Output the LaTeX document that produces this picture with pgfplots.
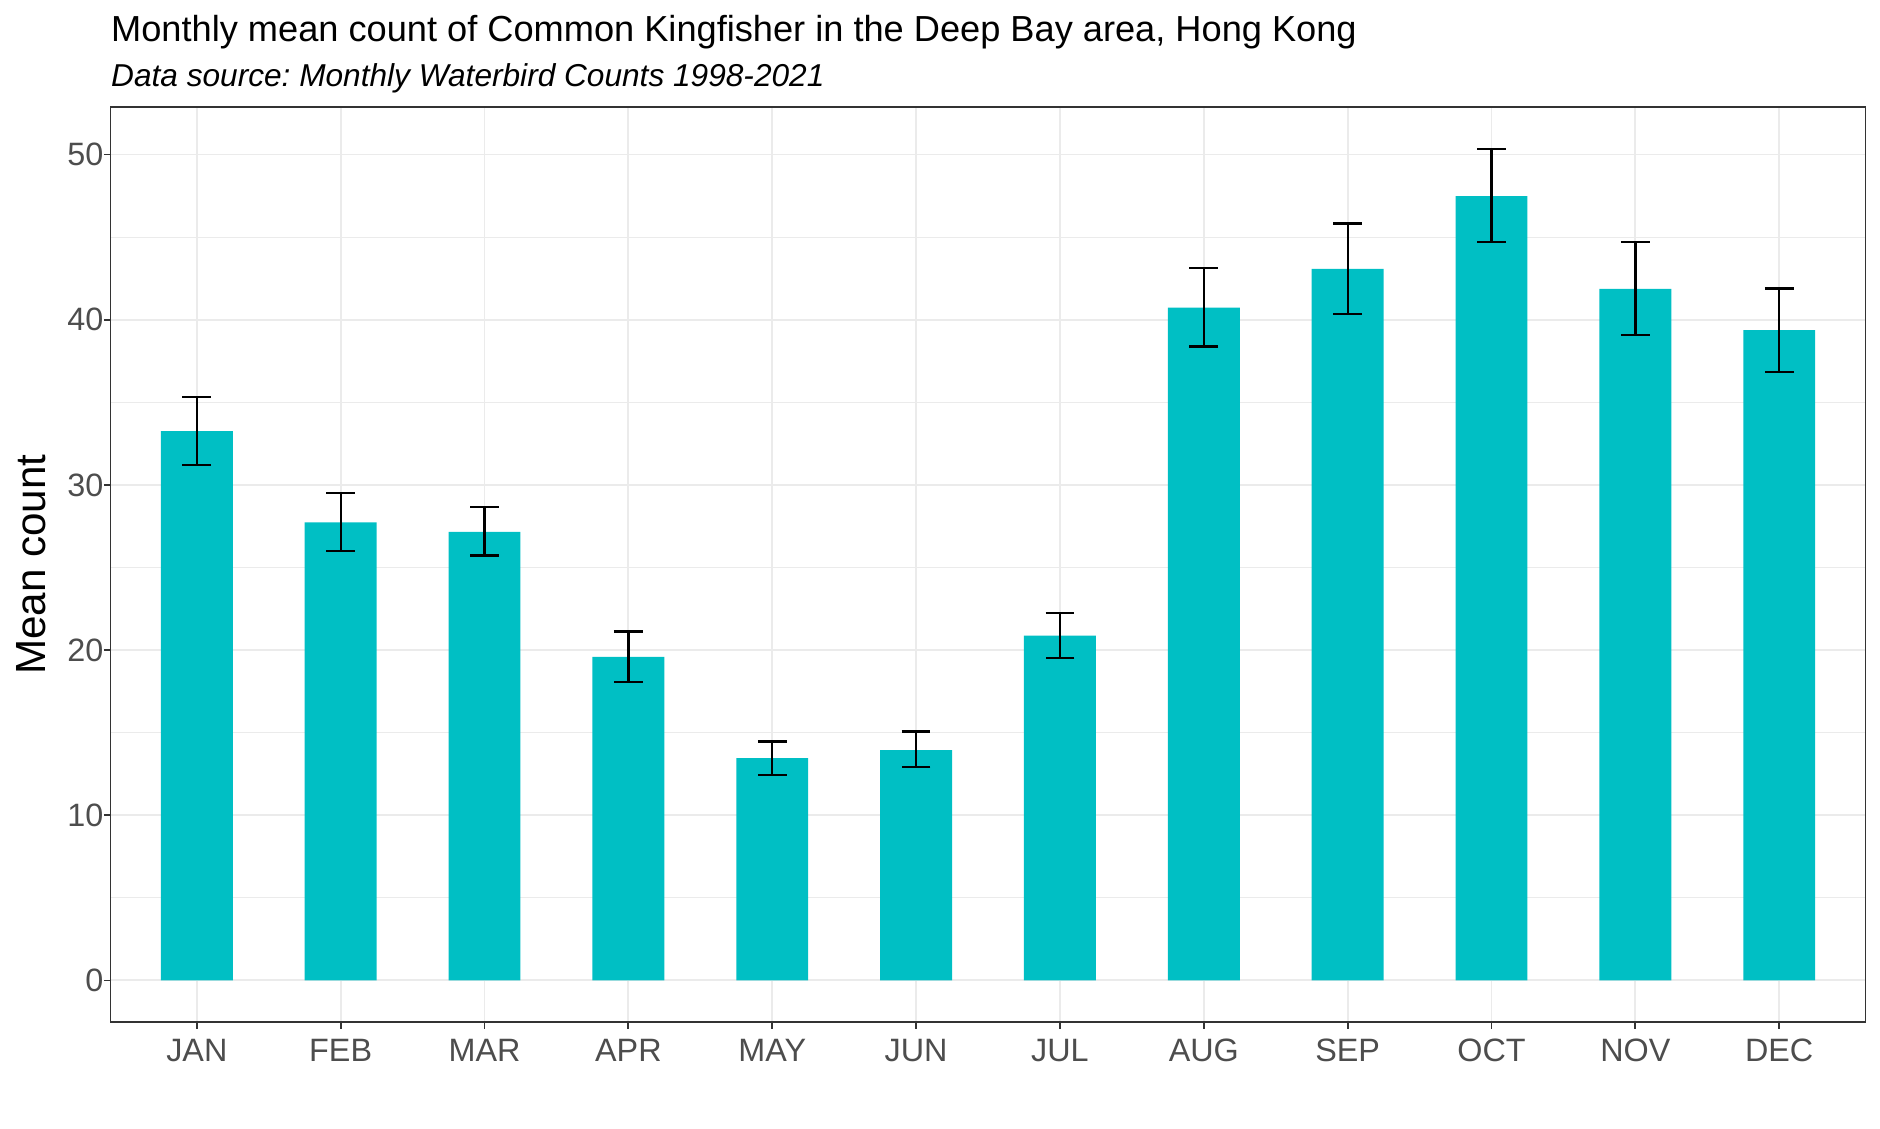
\documentclass[border=0pt]{standalone}
\usepackage{fontspec}
\setmainfont{Liberation Sans}
\usepackage{pgfplots}
\pgfplotsset{compat=1.18}
\definecolor{barcol}{HTML}{00BFC4}
\definecolor{gridcol}{HTML}{EBEBEB}
\definecolor{tickcol}{HTML}{4D4D4D}
\definecolor{bordercol}{HTML}{333333}
\frenchspacing
\begin{document}
\frenchspacing
\begin{tikzpicture}
\path[use as bounding box] (0,0) rectangle (18.8cm,11.28cm);
\node[anchor=base west, inner sep=0pt, font=\fontsize{10.3}{12}\selectfont] at (1.105cm,10.86cm) {Monthly mean count of Common Kingfisher in the Deep Bay area, Hong Kong};
\node[anchor=base west, inner sep=0pt, font=\fontsize{9}{11}\selectfont\itshape] at (1.105cm,10.41cm) {Data source: Monthly Waterbird Counts 1998-2021};
\begin{axis}[
  at={(1.105cm,1.06cm)}, anchor=south west,
  scale only axis, width=17.55cm, height=9.147cm,
  xmin=0.4, xmax=12.6, ymin=-2.52, ymax=52.86,
  xtick={1,...,12},
  xticklabels={JAN,FEB,MAR,APR,MAY,JUN,JUL,AUG,SEP,OCT,NOV,DEC},
  ytick={0,10,20,30,40,50},
  minor ytick={5,15,25,35,45},
  xtick pos=bottom, ytick pos=left,
  xmajorgrids, ymajorgrids, yminorgrids,
  major grid style={gridcol, line width=0.55pt},
  minor grid style={gridcol, line width=0.28pt},
  axis line style={bordercol, line width=0.5pt},
  tick align=outside,
  major tick length=0.065cm, minor tick length=0pt,
  tick style={bordercol, line width=0.5pt},
  /pgf/number format/assume math mode=true,
  xticklabel style={font=\fontsize{9.2}{11}\selectfont, text=tickcol, anchor=north, inner sep=0pt, yshift=-0.1cm},
  yticklabel style={font=\fontsize{9.2}{11}\selectfont, text=tickcol, anchor=east, inner sep=0pt},
  ylabel={Mean count},
  ylabel style={font=\fontsize{12}{14}\selectfont, at={(axis description cs:-0.0368,0.5)}, anchor=base, rotate=0, inner sep=0pt},
  clip=false,
]
\addplot[ybar, bar width=0.5, fill=barcol, draw=none,
  error bars/.cd, y dir=both, y explicit,
  error bar style={black, line width=0.65pt},
  error mark options={black, line width=0.65pt, mark size=0.144cm, rotate=90}]
coordinates {
  (1,33.25)  += (0,2.09) -= (0,2.06)
  (2,27.73)  += (0,1.79) -= (0,1.75)
  (3,27.16)  += (0,1.51) -= (0,1.43)
  (4,19.58)  += (0,1.55) -= (0,1.51)
  (5,13.45)  += (0,1.01) -= (0,1.03)
  (6,13.94)  += (0,1.13) -= (0,1.03)
  (7,20.87)  += (0,1.38) -= (0,1.34)
  (8,40.73)  += (0,2.40) -= (0,2.36)
  (9,43.07)  += (0,2.76) -= (0,2.71)
  (10,47.48) += (0,2.86) -= (0,2.79)
  (11,41.87) += (0,2.82) -= (0,2.78)
  (12,39.37) += (0,2.52) -= (0,2.52)
};
\end{axis}
\end{tikzpicture}
\end{document}
